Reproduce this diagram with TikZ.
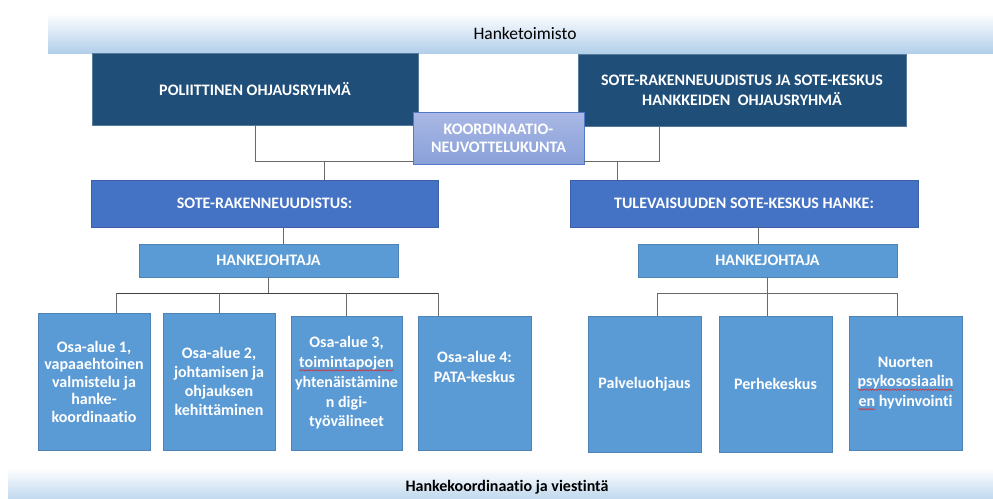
\documentclass[tikz,border=0pt]{standalone}
\usepackage{fontspec}
\setmainfont{Carlito}[Ligatures={NoCommon}]
\usetikzlibrary{decorations.pathmorphing}
\definecolor{dkblue}{RGB}{31,78,121}
\definecolor{mdblue}{RGB}{68,114,196}
\definecolor{ltblue}{RGB}{91,155,213}
\definecolor{bandblue}{RGB}{178,207,234}
\definecolor{kotop}{RGB}{170,184,228}
\definecolor{kobot}{RGB}{136,160,217}
\definecolor{kobord}{RGB}{84,120,200}
\definecolor{connc}{RGB}{105,105,105}
\definecolor{wavyred}{RGB}{215,45,45}
\newcommand\wavyword[1]{\setbox0\hbox{#1}\rlap{\copy0}\tikz[baseline=0pt,x=1pt,y=1pt]{\useasboundingbox (0,0) rectangle (\wd0,0.1);\draw[wavyred,line width=0.55pt,decorate,decoration={snake,amplitude=0.7pt,segment length=2.8pt}] (0,-2.8) -- (\wd0,-2.8);}}
\begin{document}
\begin{tikzpicture}[x=1pt,y=-1pt,
  box/.style={rectangle, inner sep=1pt, align=center, text=white,
    font=\bfseries\fontsize{16}{18}\selectfont},
  dkbox/.style={box, fill=dkblue, draw=dkblue!75!white, line width=0.6pt},
  mdbox/.style={box, fill=mdblue, draw=mdblue!85!black, line width=0.5pt},
  ltbox/.style={box, fill=ltblue, draw=ltblue!85!black, line width=0.5pt},
  kobox/.style={box, top color=kotop, bottom color=kobot, draw=kobord, line width=0.7pt},
  band/.style={rectangle, inner sep=0pt, top color=white, bottom color=bandblue},
  leaftext/.style={align=center, text=white, inner sep=0pt},
  conn/.style={draw=connc, line width=1pt}]
\useasboundingbox (0,0) rectangle (993,498);
% bands
\node[band, minimum width=945pt, minimum height=40pt] (top) at (520.5,33) {};
\node[font=\fontsize{17.5}{20}\selectfont, inner sep=0pt] (toptext) at (525,33) {Hanketoimisto};
\node[band, minimum width=985pt, minimum height=38pt] (bot) at (500.5,487) {};
\node[font=\bfseries\fontsize{16}{18}\selectfont, inner sep=0pt] (bottext) at (507,487) {Hankekoordinaatio ja viestintä};
% top level
\node[dkbox, minimum width=326pt, minimum height=72pt] (pol) at (255,89) {POLIITTINEN OHJAUSRYHMÄ};
\node[dkbox, minimum width=328pt, minimum height=72pt, font=\bfseries\fontsize{16}{20}\selectfont] (sro) at (742,90) {SOTE-RAKENNEUUDISTUS JA SOTE-KESKUS\\HANKKEIDEN \ OHJAUSRYHMÄ};
\node[kobox, minimum width=171pt, minimum height=52pt] (ko) at (498.5,138) {KOORDINAATIO-\\NEUVOTTELUKUNTA};
% second level
\node[mdbox, minimum width=347pt, minimum height=47pt] (sr) at (264.5,203.5) {SOTE-RAKENNEUUDISTUS:};
\node[mdbox, minimum width=348pt, minimum height=47pt] (tul) at (744,203.5) {TULEVAISUUDEN SOTE-KESKUS HANKE:};
\node[ltbox, minimum width=259pt, minimum height=33pt] (hj1) at (268.5,260.5) {HANKEJOHTAJA};
\node[ltbox, minimum width=259pt, minimum height=33pt] (hj2) at (767.5,260.5) {HANKEJOHTAJA};
% leaves left
\node[ltbox, minimum width=112pt, minimum height=137pt, font=\bfseries\fontsize{16}{17.5}\selectfont] (b1) at (94,381.5) {Osa-alue 1,\\vapaaehtoinen\\valmistelu ja\\hanke-\\koordinaatio};
\node[ltbox, minimum width=112pt, minimum height=137pt, font=\bfseries\fontsize{16}{19.2}\selectfont] (b2) at (219,381.5) {Osa-alue 2,\\johtamisen ja\\ohjauksen\\kehittäminen};
\node[ltbox, minimum width=111pt, minimum height=134pt, font=\bfseries\fontsize{16}{19.8}\selectfont] (b3) at (346.5,383) {Osa-alue 3,\\\wavyword{toimintapojen}\\yhtenäistämine\\n digi-\\työvälineet};
\node[ltbox, minimum width=113pt, minimum height=134pt] (b4) at (474.5,383) {};
\node[leaftext, font=\bfseries\fontsize{16}{20}\selectfont] (b4t) at (474.5,367) {Osa-alue 4:\\PATA-keskus};
% leaves right
\node[ltbox, minimum width=113pt, minimum height=136pt] (c1) at (644.5,384) {Palveluohjaus};
\node[ltbox, minimum width=113pt, minimum height=136pt] (c2) at (775.5,384) {Perhekeskus};
\node[ltbox, minimum width=113pt, minimum height=134pt, font=\bfseries\fontsize{16}{19.5}\selectfont] (c3) at (905.5,383) {Nuorten\\\wavyword{psykososiaalin}\\\wavyword{en} hyvinvointi};
% connector coordinates
\coordinate (hl) at (0,161);
\coordinate (bl) at (0,293);
\coordinate (srodrop) at (659,0);
\coordinate (d1) at (324,161);
\coordinate (d2) at (617,161);
\coordinate (t1) at (116,293);
\coordinate (t4) at (438,293);
\coordinate (r1) at (657,293);
\coordinate (r2) at (767,293);
\coordinate (r3) at (897,293);
% connectors top
\draw[conn] (pol.south) -- (pol.south |- hl) -- (ko.west |- hl);
\draw[conn] (srodrop |- sro.south) -- (srodrop |- hl) -- (ko.east |- hl);
\draw[conn] (d1) -- (d1 |- sr.north);
\draw[conn] (d2) -- (d2 |- tul.north);
% left branch
\draw[conn] (283,0 |- sr.south) -- (283,0 |- hj1.north);
\draw[conn] (hj1.south) -- (hj1.south |- bl);
\draw[conn, draw=black!75] (t1) -- (t4);
\draw[conn] (t1) -- (t1 |- b1.north);
\draw[conn] (b2.north |- bl) -- (b2.north);
\draw[conn] (b3.north |- bl) -- (b3.north);
\draw[conn] (t4) -- (t4 |- b4.north);
% right branch
\draw[conn] (758,0 |- tul.south) -- (758,0 |- hj2.north);
\draw[conn] (hj2.south) -- (hj2.south |- bl);
\draw[conn] (r1) -- (r3);
\draw[conn] (r1) -- (r1 |- c1.north);
\draw[conn] (r2) -- (r2 |- c2.north);
\draw[conn] (r3) -- (r3 |- c3.north);
\end{tikzpicture}
\end{document}
